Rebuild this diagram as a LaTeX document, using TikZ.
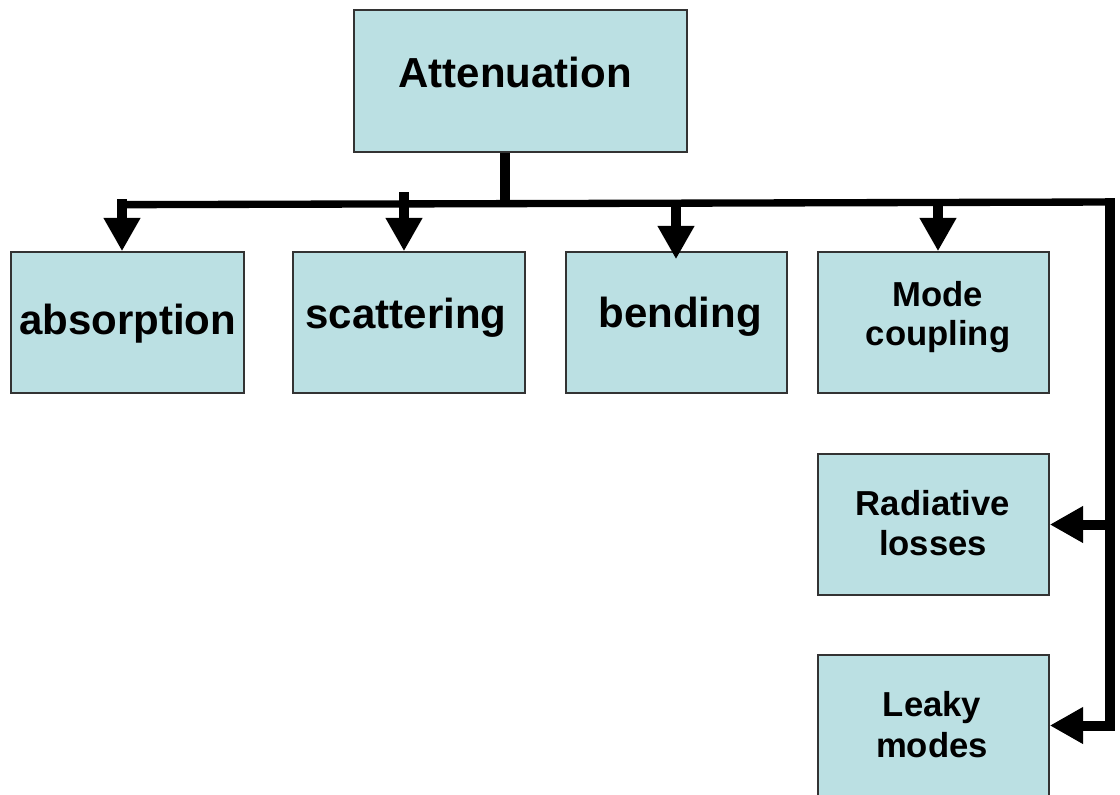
\documentclass[tikz,border=0pt]{standalone}
\usepackage{fontspec}
\setmainfont{Liberation Sans}
\usetikzlibrary{arrows.meta}
\definecolor{boxfill}{HTML}{BBE0E3}
\tikzset{
  box/.style={draw=black!80, line width=1.2pt, fill=boxfill, inner sep=0pt,
              minimum height=105.75pt},
  big/.style={anchor=base, inner sep=0pt, font=\fontsize{31.5}{36}\selectfont\bfseries},
  small/.style={anchor=base, inner sep=0pt, font=\fontsize{26}{30}\selectfont\bfseries},
  bus/.style={line width=5.5pt, line join=miter},
  arr/.style={line width=7.5pt, -{Triangle[width=26pt,length=25pt]}},
}
\begin{document}
\begin{tikzpicture}[x=0.75pt,y=-0.75pt]
\clip (0,0) rectangle (1120,794);
\fill[white] (0,0) rectangle (1120,794);
% boxes
\node[box, minimum width=249.75pt, minimum height=106.5pt] (att) at (520.5,81) {};
\node[box, minimum width=174.75pt] (abs) at (127.5,322.5) {};
\node[box, minimum width=174pt] (sca) at (409,322.5) {};
\node[box, minimum width=165.75pt] (ben) at (676.5,322.5) {};
\node[box, minimum width=173.25pt] (mod) at (933.5,322.5) {};
\node[box, minimum width=173.25pt] (rad) at (933.5,524.5) {};
\node[box, minimum width=173.25pt] (lea) at (933.5,725.5) {};
% labels
\node[big] (attT) at (515,87) {Attenuation};
\node[big] (absT) at (127.5,334) {absorption};
\node[big] (scaT) at (406,328) {scattering};
\node[big] (benT) at (680,327) {bending};
\node[small] (modT1) at (938,306) {Mode};
\node[small] (modT2) at (938,345) {coupling};
\node[small] (radT1) at (933,515) {Radiative};
\node[small] (radT2) at (933,555) {losses};
\node[small] (leaT1) at (932,716) {Leaky};
\node[small] (leaT2) at (932,757) {modes};
% junction coordinates
\coordinate (j0) at (505,202);
\coordinate (jL) at (122,202);
\coordinate (j1) at (404,192);
\coordinate (j2) at (676,202);
\coordinate (j3) at (938,202);
\coordinate (jR) at (1110,202);
\coordinate (jB) at (1110,731);
% stem and bus
\draw[line width=7.5pt] (att.south -| j0) -- (j0);
\draw[bus] ([yshift=-2pt]jL) -- (jR);
\draw[line width=7pt] ([yshift=2.75pt]jR) -- (jB);
% arrows down
\draw[arr] ([yshift=2pt]jL) -- (jL |- abs.north);
\draw[arr] (j1) -- (j1 |- sca.north);
\draw[arr] (j2) -- ([yshift=-6pt]j2 |- ben.north);
\draw[arr] (j3) -- (j3 |- mod.north);
% arrows left
\draw[arr] (jR |- rad.east) -- (rad.east);
\draw[arr] (jR |- lea.east) -- (lea.east);
\end{tikzpicture}
\end{document}
